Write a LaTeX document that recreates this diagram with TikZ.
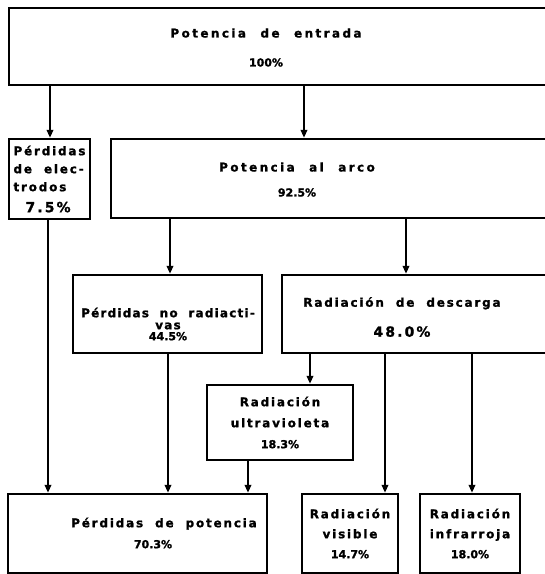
\documentclass[tikz,border=0pt]{standalone}
\usepackage{fontspec}
\setmainfont{DejaVu Sans}
\newfontfamily\lbl{DejaVu Sans}[LetterSpace=15,WordSpace=2,BoldFeatures={FakeBold=1.2}]
\newfontfamily\lbln{DejaVu Sans}[LetterSpace=10,WordSpace=2,BoldFeatures={FakeBold=1.2}]
\newfontfamily\lblw{DejaVu Sans}[LetterSpace=20,WordSpace=2.2,BoldFeatures={FakeBold=1.2}]
\newfontfamily\pct{DejaVu Sans}[LetterSpace=0,BoldFeatures={FakeBold=1.5}]
\usetikzlibrary{arrows.meta}
\begin{document}
\begin{tikzpicture}[x=1pt,y=-1pt,
  box/.style={draw,line width=2.4pt,inner sep=0pt,align=center,
    font=\lbl\bfseries\fontsize{12}{20}\selectfont},
  txt/.style={inner sep=0pt,align=center},
  arr/.style={line width=2.2pt,-{Triangle[length=8pt,width=6.5pt]}}]
\useasboundingbox (0,0) rectangle (545,574);
% boxes
\node[box,minimum width=539pt,minimum height=77pt] (top) at (278.5,46.5) {};
\node[txt,font=\lblw\bfseries\fontsize{12}{29}\selectfont] (topt) at (266,47.5)
  {Potencia de entrada\\{\pct\bfseries\fontsize{11}{29}\selectfont 100\%}};
\node[box,minimum width=81pt,minimum height=80pt,align=left,inner xsep=3.5pt,
  font=\lbl\bfseries\fontsize{12}{18}\selectfont] (elec) at (49.5,179)
  {P\'erdidas\\de elec-\\trodos\\[3pt]\hspace*{12pt}{\fontsize{14}{18}\selectfont 7.5\%}};
\node[box,minimum width=437pt,minimum height=79pt] (arco) at (329.5,178.5) {};
\node[txt,font=\lblw\bfseries\fontsize{12}{25}\selectfont] (arcot) at (297,179.5)
  {Potencia al arco\\{\pct\bfseries\fontsize{11}{25}\selectfont 92.5\%}};
\node[box,minimum width=189pt,minimum height=78pt] (norad) at (167.5,314) {};
\node[txt,font=\lbln\bfseries\fontsize{12}{12}\selectfont] (noradt) at (168,324)
  {P\'erdidas no radiacti-\\vas\\[-1pt]{\pct\bfseries\fontsize{11}{11}\selectfont 44.5\%}};
\node[box,minimum width=266pt,minimum height=78pt] (desc) at (415,314) {};
\node[txt,font=\lbl\bfseries\fontsize{12}{30}\selectfont] (desct) at (402,317)
  {Radiaci\'on de descarga\\{\fontsize{14}{30}\selectfont 48.0\%}};
\node[box,minimum width=146pt,minimum height=75pt,
  font=\lbl\bfseries\fontsize{12}{21}\selectfont] (uv) at (280,422.5)
  {Radiaci\'on\\ultravioleta\\{\pct\bfseries\fontsize{11}{21}\selectfont 18.3\%}};
\node[box,minimum width=259pt,minimum height=79pt] (perd) at (137.5,533.5) {};
\node[txt,font=\lbl\bfseries\fontsize{12}{21}\selectfont] (perdt) at (164,533)
  {P\'erdidas de potencia\\\hspace*{-22pt}{\pct\bfseries\fontsize{11}{21}\selectfont 70.3\%}};
\node[box,minimum width=96pt,minimum height=79pt,
  font=\lbl\bfseries\fontsize{12}{20}\selectfont] (vis) at (350,533.5)
  {Radiaci\'on\\visible\\{\pct\bfseries\fontsize{11}{20}\selectfont 14.7\%}};
\node[box,minimum width=100pt,minimum height=79pt,
  font=\lbl\bfseries\fontsize{12}{20}\selectfont] (ir) at (470,533.5)
  {Radiaci\'on\\infrarroja\\{\pct\bfseries\fontsize{11}{20}\selectfont 18.0\%}};
% connectors
\draw[arr] (top.south -| 50,0) -- (elec.north -| 50,0);
\draw[arr] (top.south -| 304,0) -- (arco.north -| 304,0);
\draw[arr] (arco.south -| 170,0) -- (norad.north -| 170,0);
\draw[arr] (arco.south -| 406,0) -- (desc.north -| 406,0);
\draw[arr] (elec.south -| 48,0) -- (perd.north -| 48,0);
\draw[arr] (norad.south -| 168,0) -- (perd.north -| 168,0);
\draw[arr] (desc.south -| 310,0) -- (uv.north -| 310,0);
\draw[arr] (uv.south -| 248,0) -- (perd.north -| 248,0);
\draw[arr] (desc.south -| 385,0) -- (vis.north -| 385,0);
\draw[arr] (desc.south -| 472,0) -- (ir.north -| 472,0);
\end{tikzpicture}
\end{document}
